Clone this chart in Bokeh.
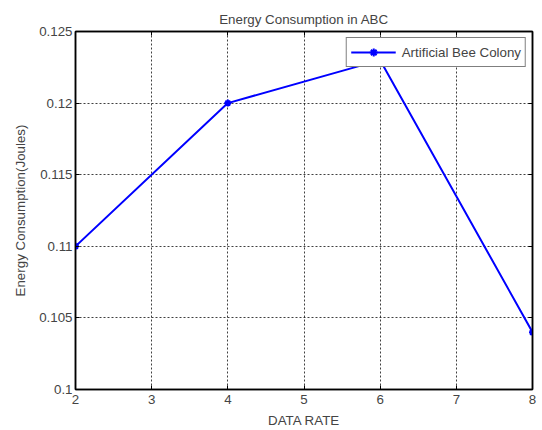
from bokeh.plotting import figure
from bokeh.models import LinearAxis, FixedTicker, Range1d, Legend, LegendItem
from bokeh.embed import file_html
from bokeh.resources import INLINE

data_rate = [2, 4, 6, 8]
energy = [0.110, 0.120, 0.123, 0.104]
x_ticks = [2, 3, 4, 5, 6, 7, 8]
y_ticks = [0.1, 0.105, 0.11, 0.115, 0.12, 0.125]
series_name = "Artificial Bee Colony"

FONT = "Liberation Sans"

p = figure(width=542, height=430, output_backend="svg", toolbar_location=None,
           x_range=Range1d(2, 8), y_range=Range1d(0.1, 0.125),
           min_border_left=75, min_border_right=10, min_border_top=31, min_border_bottom=40,
           x_axis_label="DATA RATE", y_axis_label="Energy Consumption(Joules)",
           title="Energy Consumption in ABC")
p.background_fill_color = "white"
p.border_fill_color = "white"
p.outline_line_color = "black"
p.outline_line_width = 1.5

p.title.align = "center"
p.title.text_font = FONT
p.title.text_font_size = "10pt"
p.title.text_font_style = "normal"
p.title.offset = 0

for ax in [p.xaxis[0], p.yaxis[0]]:
    ax.major_tick_in = 4
    ax.major_tick_out = 0
    ax.minor_tick_in = 0
    ax.minor_tick_out = 0
    ax.axis_line_width = 1.5
    ax.major_label_text_font = FONT
    ax.major_label_text_font_size = "10pt"
    ax.axis_label_text_font = FONT
    ax.axis_label_text_font_size = "10pt"
    ax.axis_label_text_font_style = "normal"
p.xaxis[0].ticker = FixedTicker(ticks=x_ticks)
p.yaxis[0].ticker = FixedTicker(ticks=y_ticks)
p.yaxis[0].major_label_overrides = {0.1: "0.1", 0.105: "0.105", 0.11: "0.11",
                                    0.115: "0.115", 0.12: "0.12", 0.125: "0.125"}
p.xaxis[0].major_label_standoff = 5
p.yaxis[0].major_label_standoff = 3
p.xaxis[0].axis_label_standoff = 6
p.yaxis[0].axis_label_standoff = 8

top = LinearAxis(ticker=FixedTicker(ticks=x_ticks), major_label_text_font_size="0pt",
                 major_tick_in=4, major_tick_out=0, minor_tick_in=0, minor_tick_out=0,
                 axis_line_width=1.5)
top.major_label_text_alpha = 0
right = LinearAxis(ticker=FixedTicker(ticks=y_ticks), major_label_text_font_size="0pt",
                   major_tick_in=4, major_tick_out=0, minor_tick_in=0, minor_tick_out=0,
                   axis_line_width=1.5)
right.major_label_text_alpha = 0
p.add_layout(top, "above")
p.add_layout(right, "right")

p.xgrid.ticker = FixedTicker(ticks=x_ticks)
p.ygrid.ticker = FixedTicker(ticks=y_ticks)
for g in [p.xgrid[0], p.ygrid[0]]:
    g.grid_line_color = "black"
    g.grid_line_dash = "2 2"
    g.grid_line_alpha = 0.75
    g.grid_line_width = 1

ln = p.line(data_rate, energy, line_color="blue", line_width=2)
mk = p.scatter(data_rate, energy, marker="asterisk", size=7, line_color="blue", line_width=2)

legend = Legend(items=[LegendItem(label=series_name, renderers=[ln, mk])],
                location="top_right", border_line_color="black", border_line_width=1,
                label_text_font=FONT, label_text_font_size="10pt",
                glyph_width=45, padding=4, margin=6, spacing=0,
                label_standoff=6, background_fill_alpha=1)
p.add_layout(legend)

open("out.html", "w").write(file_html(p, INLINE))
